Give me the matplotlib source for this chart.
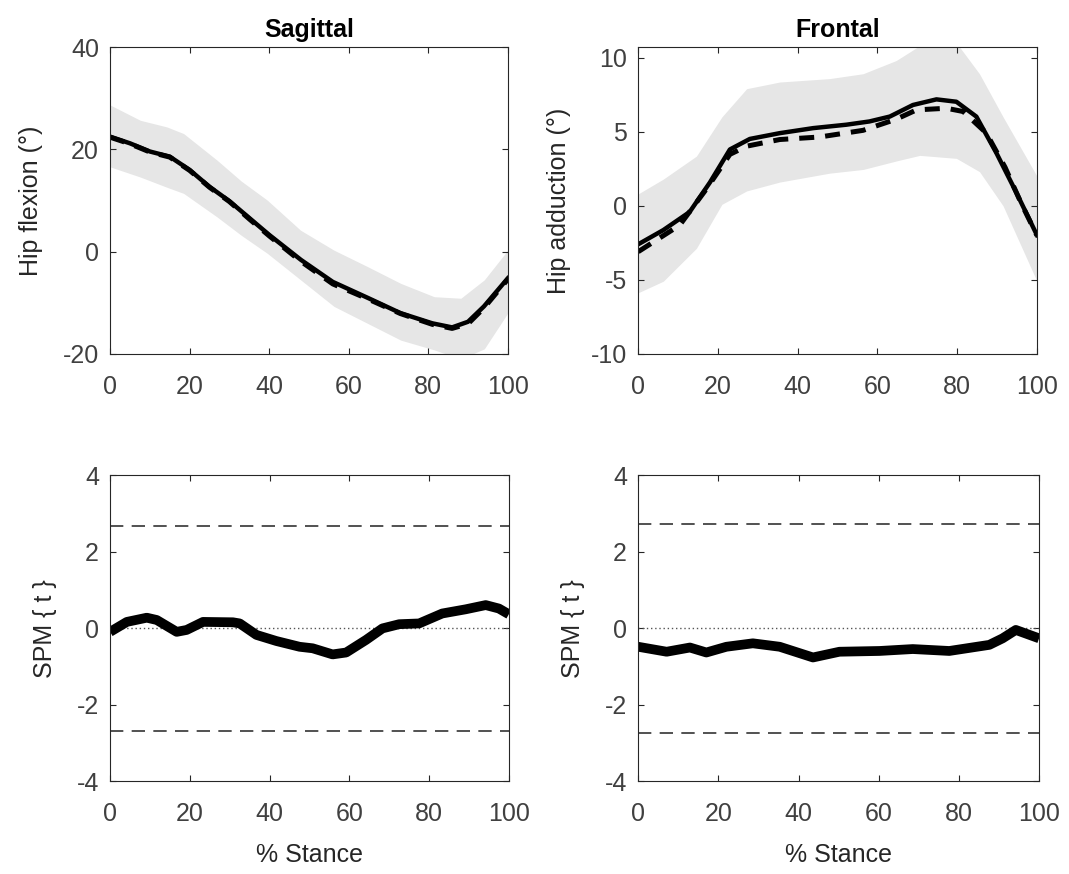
import numpy as np
import matplotlib
matplotlib.use("Agg")
import matplotlib.pyplot as plt

plt.rcParams['font.family'] = ['Liberation Sans', 'DejaVu Sans']
plt.rcParams['axes.unicode_minus'] = False

# ---- sagittal: hip flexion ----
sag_x = [0, 5, 10, 15, 20, 25, 30, 35, 40, 48, 56, 65, 73, 81, 86, 90, 94, 100]
sag_solid = [22.5, 21.2, 19.6, 18.6, 16.0, 12.7, 9.9, 6.6, 3.3, -1.6, -5.9, -9.1, -12.0, -14.0, -14.8, -13.7, -10.7, -5.2]
sag_dash = [22.4, 21.1, 19.5, 18.5, 15.9, 12.6, 9.8, 6.4, 3.1, -1.9, -6.3, -9.3, -12.1, -14.2, -15.0, -14.1, -11.0, -5.4]
sag_band_x = [0, 7.6, 14.3, 18.5, 26.9, 33, 39.5, 47.9, 56.3, 64.7, 73.1, 81.5, 88.2, 94.1, 100]
sag_upper = [28.7, 25.7, 24.4, 23.1, 17.9, 13.8, 10.1, 4.2, 0.3, -2.9, -6.2, -8.8, -9.1, -5.5, 0.3]
sag_lower = [16.6, 14.6, 12.6, 11.4, 6.8, 3.2, -0.3, -5.5, -10.7, -14.0, -17.3, -19.2, -21.0, -19.0, -12.0]

# ---- frontal: hip adduction ----
fro_x = [0, 6.3, 12.9, 18.0, 23.0, 28.0, 35.5, 43.9, 52.2, 58.0, 63.1, 68.9, 74.8, 79.8, 84.8, 89.8, 94.8, 100]
fro_solid = [-2.6, -1.64, -0.42, 1.58, 3.8, 4.51, 4.9, 5.24, 5.47, 5.69, 6.02, 6.8, 7.18, 7.02, 6.02, 3.58, 0.91, -1.98]
fro_dash_x = [0, 10.4, 17.1, 23.0, 27.2, 35.5, 45.5, 56.4, 64.7, 69.8, 77.3, 81.5, 87.3, 92.0, 96.0, 100]
fro_dash = [-3.1, -1.31, 1.13, 3.47, 4.02, 4.47, 4.64, 5.09, 5.84, 6.47, 6.58, 6.36, 4.91, 2.6, 0.2, -2.0]
fro_band_x = [0, 6.3, 14.6, 21.0, 27.2, 35.5, 48.0, 56.4, 64.7, 70.6, 79.8, 85.6, 91.5, 100]
fro_upper = [0.8, 1.8, 3.35, 6.0, 7.9, 8.35, 8.58, 8.91, 9.8, 10.8, 11.0, 8.9, 6.0, 2.0]
fro_lower = [-5.87, -5.09, -2.87, 0.1, 1.0, 1.6, 2.2, 2.45, 3.02, 3.4, 3.2, 2.3, 0.0, -5.09]

# ---- SPM{t} ----
spm_sag_x = [0, 4.2, 9.2, 11.7, 16.7, 19.2, 23.3, 30.8, 32.5, 36.7, 41.7, 47.5, 50.8, 55.8, 59.2,
             64.2, 68.3, 72.5, 77.5, 83.3, 89.2, 94.2, 97.5, 100]
spm_sag = [-0.09, 0.17, 0.28, 0.22, -0.09, -0.04, 0.17, 0.16, 0.13, -0.17, -0.33, -0.48, -0.52,
           -0.68, -0.63, -0.30, 0.0, 0.11, 0.13, 0.39, 0.50, 0.61, 0.52, 0.37]
spm_fro_x = [0, 7.1, 12.9, 17.0, 22.0, 28.6, 35.3, 43.6, 50.2, 60.2, 68.5, 77.6, 87.6, 90.9, 94.2, 100]
spm_fro = [-0.48, -0.61, -0.50, -0.63, -0.48, -0.39, -0.48, -0.76, -0.61, -0.59, -0.54, -0.59,
           -0.43, -0.26, -0.04, -0.26]
thresh_sag = 2.69
thresh_fro = 2.74

fig = plt.figure(figsize=(10.69, 8.74), dpi=100)
pos = {
    "tl": [0.103, 0.595, 0.372, 0.351],
    "tr": [0.597, 0.595, 0.373, 0.351],
    "bl": [0.103, 0.106, 0.373, 0.350],
    "br": [0.597, 0.106, 0.375, 0.350],
}
FS = 18
TXT = "#262626"
BAND = "#e6e6e6"


def style(ax):
    ax.set_xlim(0, 100)
    ax.set_xticks([0, 20, 40, 60, 80, 100])
    ax.tick_params(direction="in", length=4, labelsize=FS, colors=TXT,
                   labelcolor="#404040", top=True, right=True)
    ax.tick_params(axis="x", pad=15)
    ax.tick_params(axis="y", pad=8)
    for s in ax.spines.values():
        s.set_color(TXT)
        s.set_linewidth(0.8)


ax = fig.add_axes(pos["tl"])
ax.fill_between(sag_band_x, sag_lower, sag_upper, color=BAND, lw=0)
ax.plot(sag_x, sag_solid, color="k", lw=3.2, solid_joinstyle="round")
ax.plot(sag_x, sag_dash, color="k", lw=3.6, ls=(0, (3, 2.2)))
ax.set_ylim(-20, 40)
ax.set_yticks([-20, 0, 20, 40])
ax.set_ylabel("Hip flexion (°)", fontsize=FS, color=TXT, labelpad=14)
ax.set_title("Sagittal", fontsize=FS, fontweight="bold", pad=7)
style(ax)

ax = fig.add_axes(pos["tr"])
ax.fill_between(fro_band_x, fro_lower, fro_upper, color=BAND, lw=0)
ax.plot(fro_x, fro_solid, color="k", lw=3.2, solid_joinstyle="round")
ax.plot(fro_dash_x, fro_dash, color="k", lw=3.6, ls=(0, (3, 2.2)))
ax.set_ylim(-10, 10.7)
ax.set_yticks([-10, -5, 0, 5, 10])
ax.set_ylabel("Hip adduction (°)", fontsize=FS, color=TXT, labelpad=14)
ax.set_title("Frontal", fontsize=FS, fontweight="bold", pad=7)
style(ax)

for key, xs, ys, th in [("bl", spm_sag_x, spm_sag, thresh_sag),
                        ("br", spm_fro_x, spm_fro, thresh_fro)]:
    ax = fig.add_axes(pos[key])
    ax.axhline(0, color="#555555", lw=1.0, ls=(0, (1, 2)))
    ax.axhline(th, color="#333333", lw=1.2, ls=(0, (8, 5)))
    ax.axhline(-th, color="#333333", lw=1.2, ls=(0, (8, 5)))
    ax.plot(xs, ys, color="k", lw=7, solid_capstyle="butt", solid_joinstyle="round")
    ax.set_ylim(-4, 4)
    ax.set_yticks([-4, -2, 0, 2, 4])
    ax.set_ylabel("SPM { t }", fontsize=FS, color=TXT, labelpad=14)
    ax.set_xlabel("% Stance", fontsize=FS, color=TXT, labelpad=12)
    style(ax)

fig.savefig("out.png", dpi=100)
